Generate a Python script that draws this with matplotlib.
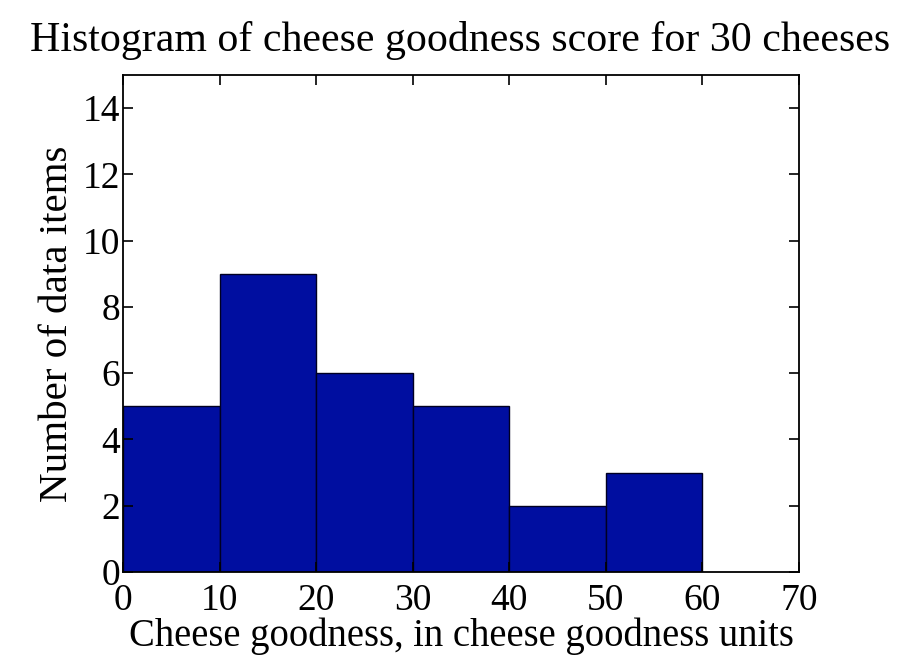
import numpy as np
import matplotlib
matplotlib.use('Agg')
import matplotlib.pyplot as plt

# histogram bins and counts
bin_edges = [0, 10, 20, 30, 40, 50, 60]
counts = [5, 9, 6, 5, 2, 3]
xticks = [0, 10, 20, 30, 40, 50, 60, 70]
yticks = [0, 2, 4, 6, 8, 10, 12, 14]

plt.rcParams['font.family'] = ['Liberation Serif', 'DejaVu Serif']

fig = plt.figure(figsize=(9, 6.6), dpi=100)
ax = fig.add_axes([123 / 900, 1 - 572 / 660, (799 - 123) / 900, (572 - 75) / 660])

widths = np.diff(bin_edges)
ax.bar(bin_edges[:-1], counts, width=widths, align='edge',
       color='#000ea0', edgecolor='#000022', linewidth=1.0)

ax.set_xlim(0, 70)
ax.set_ylim(0, 15)
ax.set_xticks(xticks)
ax.set_yticks(yticks)
ax.tick_params(direction='in', top=True, right=True, length=7, width=1.2,
               labelsize=27, colors='black')
ax.tick_params(axis='x', pad=8)
ax.tick_params(axis='y', pad=2)
for s in ax.spines.values():
    s.set_linewidth(1.3)

ax.set_xlabel("Cheese goodness, in cheese goodness units", fontsize=27.8, labelpad=0)
ax.set_ylabel("Number of data items", fontsize=29.5, labelpad=5)
fig.text(30 / 900, 1 - 40 / 660, "Histogram of cheese goodness score for 30 cheeses",
         fontsize=30.2, va='center', ha='left')

fig.savefig("out.png", dpi=100)
